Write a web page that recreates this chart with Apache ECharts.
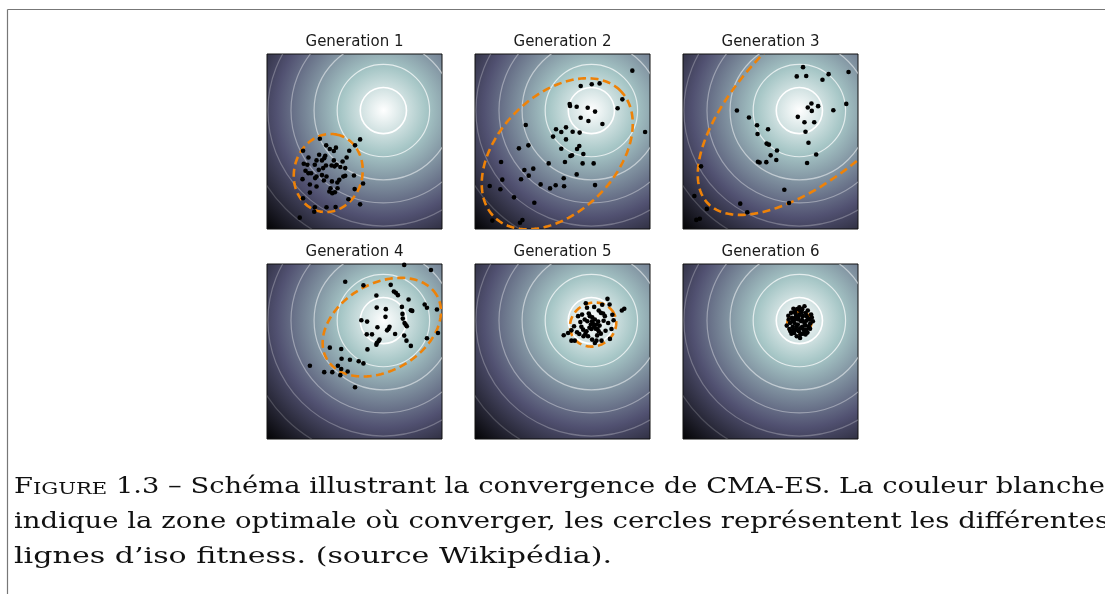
<!DOCTYPE html>
<html>
<head>
<meta charset="utf-8">
<script src="https://cdn.jsdelivr.net/npm/echarts@6/dist/echarts.min.js"></script>
<style>
  html, body { margin: 0; padding: 0; background: #fff; }
  #chart { width: 1105px; height: 594px; }
</style>
</head>
<body>
<div id="chart"></div>
<script>
// optimum of the fitness function and the iso-fitness radii (plot units 0..100)
const optimum = [66.5, 67.7]
const contourRadii = [13.2, 26.4, 39.6, 52.8, 66, 79.2]
const contourAlpha = [1, 0.7, 0.5, 0.36, 0.26, 0.18]

const titles = ['Generation 1', 'Generation 2', 'Generation 3', 'Generation 4', 'Generation 5', 'Generation 6']

// sampled points of each generation
const gen1 = [[30.2,51.6],[53.2,51.2],[50.3,47.8],[33.8,47.8],[35.9,45.7],[39.4,46.5],[38.2,44.6],[20.6,44.7],[47.0,44.7],[29.8,42.4],[33.3,41.9],[32.7,40.5],[45.5,40.9],[23.7,40.9],[28.3,39.2],[31.4,39.2],[38.2,39.2],[43.2,38.6],[21.0,37.3],[23.1,36.7],[27.3,36.7],[33.7,36.3],[36.9,36.3],[39.8,36.7],[41.9,35.4],[44.7,34.8],[32.1,34.8],[38.6,35.8],[22.0,33.3],[29.6,33.8],[23.7,31.9],[25.2,31.9],[28.3,30.0],[31.4,30.8],[34.0,30.0],[43.6,30.0],[44.7,30.4],[49.7,30.6],[20.3,28.5],[27.5,29.1],[41.3,28.1],[37.1,27.2],[40.2,26.6],[24.5,25.4],[32.5,27.7],[54.9,26.0],[28.3,24.3],[36.3,23.3],[38.8,21.0],[37.3,20.5],[40.3,23.3],[50.1,22.8],[24.5,20.8],[20.6,17.6],[46.5,17.0],[53.2,14.1],[27.3,12.4],[34.0,12.4],[39.2,12.6],[27.0,9.9],[18.7,6.5],[35.6,21.4]]
const gen2 = [[89.9,90.5],[60.4,81.7],[66.7,82.7],[71.2,83.2],[84.2,74.1],[54.1,71.4],[54.3,70.3],[58.1,69.9],[64.4,69.3],[68.6,67.1],[81.5,69.0],[60.4,63.6],[64.8,61.7],[72.8,60.0],[29.0,59.4],[46.3,57.0],[52.0,58.1],[49.3,55.4],[55.8,55.6],[59.8,55.1],[97.2,55.4],[44.6,52.8],[52.0,51.2],[30.5,47.8],[25.1,46.1],[59.6,47.4],[58.3,45.7],[49.3,45.9],[61.9,42.9],[54.5,41.7],[55.4,42.1],[14.9,38.3],[42.1,37.5],[51.4,38.3],[61.5,37.5],[67.8,37.5],[28.2,33.7],[33.3,34.5],[30.7,30.5],[58.1,31.2],[15.6,28.2],[26.3,28.4],[50.7,29.0],[37.5,25.5],[46.1,25.0],[42.9,23.2],[50.9,24.4],[68.6,25.1],[8.4,24.6],[14.5,22.7],[22.3,18.1],[33.9,15.0],[9.9,4.8],[25.7,3.6],[27.1,5.1]]
const gen3 = [[68.6,92.5],[94.6,89.7],[65.0,87.2],[70.4,87.4],[83.2,88.5],[79.7,85.3],[73.4,71.7],[71.3,69.4],[77.2,70.2],[73.6,67.5],[30.8,67.7],[85.9,67.9],[93.3,71.5],[65.6,64.1],[37.7,63.7],[69.4,61.0],[75.0,61.0],[42.3,59.3],[48.6,57.0],[70.0,55.6],[42.6,54.3],[71.7,49.3],[47.8,48.8],[49.1,48.2],[53.7,44.9],[50.1,42.1],[76.1,42.6],[53.3,39.4],[42.8,38.4],[43.8,38.0],[47.6,38.2],[70.9,37.7],[10.3,35.8],[57.9,22.4],[60.6,14.9],[32.7,14.5],[6.5,18.9],[13.6,11.5],[36.7,9.6],[7.6,5.2],[9.6,5.9]]
const gen4 = [[78.4,99.5],[93.7,96.6],[44.7,89.9],[55.1,87.8],[70.7,88.1],[72.5,84.3],[73.6,83.6],[74.8,82.2],[62.5,82.0],[80.9,79.7],[90.1,76.9],[91.4,75.0],[62.7,75.1],[67.9,74.2],[77.1,75.5],[82.2,73.6],[83.0,73.2],[97.1,74.0],[77.4,71.5],[67.7,69.8],[53.9,67.9],[57.2,67.1],[77.6,68.8],[78.6,66.3],[79.2,65.4],[79.9,64.4],[63.1,63.9],[70.0,64.1],[69.4,62.9],[68.6,62.1],[97.7,60.6],[57.0,59.8],[60.0,59.8],[73.2,60.0],[78.4,59.1],[91.4,57.6],[64.3,56.8],[63.7,55.8],[62.7,54.9],[62.5,53.9],[79.7,56.2],[82.2,53.2],[35.9,52.2],[42.4,51.4],[57.4,51.2],[42.6,45.9],[47.4,45.3],[52.4,44.4],[55.1,43.2],[24.5,41.9],[40.5,41.9],[42.4,40.0],[46.1,38.6],[32.7,38.2],[37.3,38.2],[41.9,36.5],[50.3,29.6]]
const gen5 = [[63.3,77.6],[75.7,80.1],[68.1,75.5],[72.7,76.7],[76.9,76.9],[85.3,74.4],[83.9,73.4],[58.9,70.2],[61.2,71.1],[65.0,71.7],[65.6,70.2],[70.7,73.4],[71.9,72.1],[73.2,71.7],[74.2,70.2],[79.2,67.9],[62.7,68.3],[64.2,67.3],[66.9,67.3],[68.5,68.3],[69.4,65.4],[68.1,64.1],[66.5,62.9],[70.0,62.9],[70.7,61.6],[60.8,64.1],[61.8,62.5],[55.1,62.1],[53.2,60.6],[50.7,59.3],[58.3,61.0],[63.1,60.2],[64.6,58.7],[71.9,60.2],[74.6,61.9],[78.0,62.9],[77.1,57.2],[66.9,56.8],[68.5,54.9],[69.4,56.2],[72.3,56.2],[55.1,56.2],[57.0,56.2],[62.0,58.7],[63.7,61.6],[66.2,65.4],[70.4,67.1],[76.1,66.3],[56.6,64.4],[67.4,66.0],[68.9,63.0],[67.0,69.6],[71.2,64.8],[69.8,59.2],[65.4,63.6],[59.6,60.0],[73.5,67.6],[60.2,66.8],[64.0,75.0],[78.5,71.0]]
const gen6 = [[63.1,74.4],[66.5,75.3],[69.4,75.9],[71.3,73.4],[73.2,71.1],[74.2,67.3],[72.3,68.3],[61.8,72.1],[60.4,68.3],[59.3,64.8],[60.8,62.9],[62.0,60.2],[65.0,58.7],[66.9,57.7],[68.5,60.2],[70.4,62.5],[71.9,64.4],[64.6,70.2],[66.5,71.1],[68.5,70.2],[63.7,66.3],[65.6,65.4],[67.5,67.3],[69.4,66.3],[64.6,62.5],[66.2,61.6],[68.1,64.1],[62.3,69.2],[70.7,70.2],[63.9,73.0],[70.0,59.7],[62.7,64.1],[66.9,73.6],[72.7,66.0],[65.8,68.3],[61.2,66.3],[64.2,71.9],[67.8,72.4],[70.1,72.0],[71.5,68.9],[72.6,63.0],[69.4,61.1],[67.1,59.8],[63.6,60.6],[61.4,61.6],[60.2,70.4],[62.6,67.4],[64.8,64.3],[66.9,63.3],[68.8,62.7],[70.0,65.0],[66.0,69.8],[68.0,68.0],[64.1,68.6],[70.4,67.6],[63.0,62.5],[65.2,74.3],[68.1,74.2],[73.6,69.4],[71.1,60.8]]
const generations = [gen1, gen2, gen3, gen4, gen5, gen6]

// search distribution of each generation: [cx, cy, semi-axis a, semi-axis b, angle deg]
const ellipses = [
  [35, 32, 22.5, 19.5, 75],
  [47, 43, 51, 33.5, 45],
  [81.3, 77.6, 92, 41, 43],
  [65.6, 63.9, 36.3, 24.9, 30],
  [67.5, 65.4, 13.5, 12.3, 30],
  [66.5, 66.3, 7, 6.3, 20]
]

const captionLines = [
  ['F', 'IGURE', ' 1.3 – Schéma illustrant la convergence de CMA-ES. La couleur blanche'],
  ['indique la zone optimale où converger, les cercles représentent les différentes'],
  ['lignes d’iso fitness. (source Wikipédia).']
]
// right edge of each caption line in the original
const captionEnds = [1105, 1109, 612]

const myChart = echarts.init(document.getElementById('chart'))

const panelLeft = [267, 475, 683]
const panelTop = [54, 264]
const panelSize = 175

// bone colormap, t = 1 at the optimum, linear with distance
const background = {
  type: 'radial',
  x: optimum[0] / 100,
  y: 1 - optimum[1] / 100,
  r: 0.96,
  colorStops: [
    { offset: 0, color: '#ffffff' },
    { offset: 0.254, color: 'rgb(166,198,198)' },
    { offset: 0.635, color: 'rgb(81,81,113)' },
    { offset: 1, color: '#000000' }
  ]
}

function renderContour(params, api) {
  const c = api.coord([api.value(0), api.value(1)])
  const r = api.size([api.value(2), 0])[0]
  const alpha = contourAlpha[params.dataIndex]
  return {
    type: 'circle',
    shape: { cx: c[0], cy: c[1], r: r },
    style: {
      fill: null,
      stroke: 'rgba(255,255,255,' + alpha + ')',
      lineWidth: params.dataIndex === 0 ? 1.6 : 1.2
    }
  }
}

function renderEllipse(params, api) {
  const cx = api.value(0), cy = api.value(1)
  const a = api.value(2), b = api.value(3)
  const ang = api.value(4) * Math.PI / 180
  const pts = []
  for (let k = 0; k < 160; k++) {
    const t = k / 160 * Math.PI * 2
    const x = cx + a * Math.cos(t) * Math.cos(ang) - b * Math.sin(t) * Math.sin(ang)
    const y = cy + a * Math.cos(t) * Math.sin(ang) + b * Math.sin(t) * Math.cos(ang)
    pts.push(api.coord([x, y]))
  }
  return {
    type: 'polygon',
    shape: { points: pts },
    style: { fill: null, stroke: '#ee8208', lineWidth: 2.6, lineDash: [8, 4.5] }
  }
}

const grids = [], xAxes = [], yAxes = [], series = [], graphics = []
for (let i = 0; i < 6; i++) {
  const left = panelLeft[i % 3]
  const top = panelTop[Math.floor(i / 3)]
  grids.push({
    left: left, top: top, width: panelSize, height: panelSize,
    show: true,
    backgroundColor: background,
    borderColor: '#111',
    borderWidth: 1
  })
  xAxes.push({ type: 'value', gridIndex: i, min: 0, max: 100, show: false })
  yAxes.push({ type: 'value', gridIndex: i, min: 0, max: 100, show: false })
  series.push({
    type: 'custom',
    xAxisIndex: i, yAxisIndex: i,
    clip: true, silent: true, z: 1,
    renderItem: renderContour,
    data: contourRadii.map(r => [optimum[0], optimum[1], r])
  })
  series.push({
    type: 'custom',
    xAxisIndex: i, yAxisIndex: i,
    clip: true, silent: true, z: 2,
    renderItem: renderEllipse,
    data: [ellipses[i]]
  })
  series.push({
    type: 'scatter',
    xAxisIndex: i, yAxisIndex: i,
    silent: true, z: 3,
    symbolSize: 4.6,
    itemStyle: { color: '#000', opacity: 1 },
    data: generations[i]
  })
  graphics.push({
    type: 'text',
    x: left + panelSize / 2,
    y: top - 12,
    style: {
      text: titles[i],
      font: '15px "DejaVu Sans"',
      fill: '#1a1a1a',
      textAlign: 'center',
      textVerticalAlign: 'middle'
    }
  })
}

// caption, each line stretched to the width it has in the original serif face
const measure = document.createElement('canvas').getContext('2d')
function textWidth(s, size) {
  measure.font = size + 'px "DejaVu Serif"'
  return measure.measureText(s).width
}
const baselines = [493, 528, 563]
captionLines.forEach((parts, k) => {
  let text, width
  if (parts.length === 3) {
    text = '{a|' + parts[0] + '}{b|' + parts[1] + '}{a|' + parts[2] + '}'
    width = textWidth(parts[0], 22) + textWidth(parts[1], 17) + textWidth(parts[2], 22)
  } else {
    text = parts[0]
    width = textWidth(parts[0], 22)
  }
  graphics.push({
    type: 'text',
    x: 14,
    y: baselines[k] + 5,
    scaleX: (captionEnds[k] - 14) / width,
    style: {
      text: text,
      font: '22px "DejaVu Serif"',
      fill: '#111',
      textVerticalAlign: 'bottom',
      rich: {
        a: { fontSize: 22, fontFamily: 'DejaVu Serif', verticalAlign: 'bottom' },
        b: { fontSize: 17, fontFamily: 'DejaVu Serif', verticalAlign: 'bottom' }
      }
    }
  })
})

// page frame
graphics.push({ type: 'line', shape: { x1: 7.5, y1: 9.5, x2: 1105, y2: 9.5 }, style: { stroke: '#777', lineWidth: 1.2 } })
graphics.push({ type: 'line', shape: { x1: 7.5, y1: 9.5, x2: 7.5, y2: 594 }, style: { stroke: '#777', lineWidth: 1.2 } })

const option = {
  backgroundColor: '#fff',
  animation: false,
  grid: grids,
  xAxis: xAxes,
  yAxis: yAxes,
  series: series,
  graphic: graphics
}

myChart.setOption(option)
</script>
</body>
</html>
